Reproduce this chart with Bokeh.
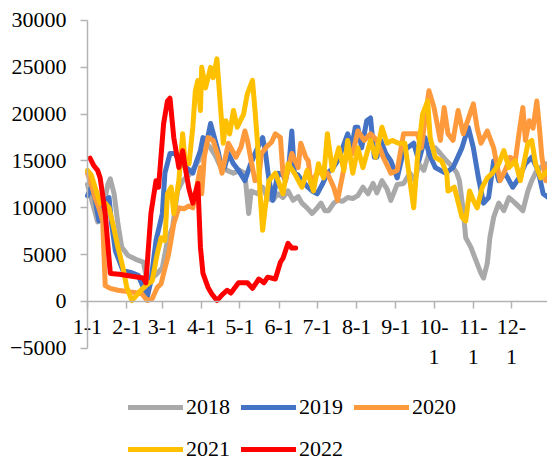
from bokeh.plotting import figure
from bokeh.models import Range1d, FixedTicker, Legend, LegendItem
from bokeh.embed import file_html
from bokeh.resources import INLINE

# x positions are day-of-year (0 = Jan 1)
month_ticks = [0, 31, 59, 90, 120, 151, 181, 212, 243, 273, 304, 334]
month_labels = ["1-1", "2-1", "3-1", "4-1", "5-1", "6-1", "7-1", "8-1", "9-1",
                "10-\n1", "11-\n1", "12-\n1"]
y_ticks = [-5000, 0, 5000, 10000, 15000, 20000, 25000, 30000]

series_names = ["2018", "2019", "2020", "2021", "2022"]
series_colors = ["#A9A9A9", "#4472C4", "#FF9A3C", "#FFC000", "#FF0000"]

days_2018 = [0, 4, 8, 12, 16, 18, 21, 24, 27, 32, 38, 44, 47, 51, 55, 59, 63, 67, 71, 75,
             80, 85, 90, 94, 97, 101, 105, 110, 115, 120, 124, 127, 129, 134, 138, 142, 146,
             150, 154, 158, 162, 166, 169, 173, 177, 181, 184, 187, 190, 194, 197, 201, 205,
             209, 213, 217, 221, 225, 228, 232, 236, 239, 244, 249, 254, 258, 261, 265, 269,
             274, 278, 283, 288, 291, 293, 296, 298, 302, 306, 310, 312, 315, 317, 320, 324,
             328, 332, 337, 343, 347, 350, 354, 361, 364]
vals_2018 = [12500, 10500, 8500, 9500, 12500, 13100, 11500, 8300, 5800, 4900, 4500, 4200,
             2200, 2500, 3000, 3600, 6500, 7900, 11800, 12900, 13500, 14500, 15500, 16800,
             16400, 15500, 14300, 14000, 13700, 14000, 13700, 9400, 11800, 11500, 12200,
             11000, 10800, 11500, 11100, 11800, 10800, 11200, 10500, 10000, 9400, 10000,
             10500, 9700, 9700, 10500, 10800, 10700, 11100, 11000, 11300, 12200, 11500,
             12600, 11600, 12900, 12000, 10800, 12500, 12600, 13700, 12900, 14700, 14000,
             15800, 16400, 15800, 15000, 14300, 13700, 12900, 9700, 6800, 5800, 4400, 3000,
             2500, 4100, 6800, 9000, 10500, 9700, 11100, 10500, 9700, 11800, 12900, 14000,
             14700, 13500]

days_2019 = [0, 3, 6, 9, 14, 17, 19, 22, 28, 34, 40, 44, 47, 50, 54, 59, 61, 65, 69, 73,
             78, 83, 86, 89, 91, 94, 97, 100, 103, 106, 108, 111, 115, 119, 124, 128, 132,
             136, 138, 140, 143, 146, 150, 154, 156, 159, 161, 163, 166, 169, 173, 177, 181,
             185, 189, 193, 197, 201, 205, 208, 211, 213, 216, 220, 223, 226, 228, 231, 235,
             239, 244, 249, 253, 257, 261, 266, 269, 274, 278, 282, 288, 291, 295, 300, 304,
             308, 312, 316, 320, 324, 329, 335, 340, 345, 350, 355, 359, 363]
vals_2019 = [11300, 12200, 11000, 8600, 10800, 11100, 8300, 5400, 3300, 3100, 2800, 1500,
             400, 2200, 6500, 9400, 13700, 15800, 15800, 14800, 14300, 13700, 15000, 16100,
             17500, 17000, 19000, 17500, 16000, 14000, 14300, 15800, 14700, 14000, 12900,
             14500, 15800, 17000, 17500, 16100, 13000, 10800, 13700, 13500, 12900, 15000,
             18200, 13700, 13500, 12900, 12300, 11800, 11500, 12500, 13700, 14200, 15000,
             16400, 17900, 16400, 18600, 18600, 16400, 19300, 19600, 15400, 15400, 17200,
             15800, 15000, 13200, 16100, 16500, 16900, 15000, 17500, 15800, 14300, 14000,
             13700, 14300, 15200, 16400, 18600, 16400, 13200, 10500, 11100, 15000, 12900,
             13700, 12200, 13200, 14700, 15400, 14000, 11500, 11100]

days_2020 = [0, 3, 6, 9, 12, 13, 14, 18, 24, 30, 35, 40, 43, 47, 51, 55, 58, 61, 64, 68,
             72, 76, 80, 83, 87, 89, 90, 92, 95, 99, 103, 106, 111, 117, 121, 124, 126, 129,
             132, 135, 137, 141, 145, 148, 152, 154, 156, 161, 166, 168, 172, 174, 176, 180,
             184, 189, 194, 197, 201, 205, 209, 213, 218, 223, 228, 233, 239, 244, 249, 255,
             260, 263, 266, 269, 273, 276, 278, 281, 284, 288, 292, 296, 300, 304, 307, 310,
             315, 320, 325, 329, 333, 337, 340, 343, 345, 348, 351, 354, 356, 358, 361, 364]
vals_2020 = [13700, 12500, 11100, 10000, 8600, 5100, 1700, 1400, 1200, 1100, 1000, 900,
             800, 100, 300, 1500, 1900, 3500, 5100, 8300, 10000, 9900, 10200, 10000, 12900,
             14300, 11500, 15400, 17500, 17200, 15500, 13700, 16900, 15400, 16500, 18200,
             17200, 15000, 12900, 13200, 15800, 16500, 17000, 17900, 17500, 13700, 12900,
             15800, 14300, 16900, 15400, 15000, 12600, 13500, 14000, 13700, 12200, 10800,
             13500, 16400, 15800, 18200, 17200, 17900, 17200, 15400, 13700, 14000, 17900,
             17900, 17900, 16400, 19500, 22500, 20700, 18600, 17200, 20700, 17900, 17200,
             20400, 17900, 19500, 21100, 18500, 16900, 18200, 16400, 12900, 14000, 15400,
             15000, 18000, 20700, 17200, 19300, 18500, 21400, 18600, 15400, 12900, 15000]

days_2021 = [0, 3, 6, 10, 14, 17, 20, 24, 28, 31, 35, 39, 42, 47, 51, 55, 58, 61, 63, 66,
             68, 72, 75, 77, 80, 83, 85, 87, 89, 90, 93, 97, 99, 102, 105, 107, 109, 112,
             115, 118, 123, 126, 130, 132, 134, 136, 138, 140, 143, 148, 154, 158, 163, 169,
             173, 178, 182, 186, 189, 193, 198, 202, 205, 209, 213, 217, 223, 227, 232, 236,
             240, 245, 250, 254, 257, 260, 264, 268, 270, 274, 279, 283, 284, 289, 295, 298,
             301, 304, 307, 311, 315, 319, 324, 328, 332, 337, 341, 347, 350, 353, 357, 363]
vals_2021 = [14000, 13500, 12200, 10500, 10500, 10000, 8300, 5800, 3600, 1500, 100, 700,
             1200, 1800, 2200, 5100, 6800, 6500, 11500, 12200, 9400, 12900, 17900, 14700,
             14700, 18600, 22500, 23600, 20400, 25000, 22800, 25000, 23900, 25900, 20400,
             16900, 19300, 17900, 20400, 18600, 20000, 22200, 23600, 20400, 16900, 11500,
             7600, 10000, 12900, 13700, 11500, 14700, 13700, 12200, 14000, 11800, 14700,
             13200, 17900, 14000, 16400, 14000, 17200, 13700, 16400, 14300, 17200, 15400,
             18600, 16900, 17200, 16900, 16900, 12900, 10000, 15400, 20000, 21400, 17500,
             15400, 15000, 13700, 11800, 12200, 9000, 8600, 11800, 10800, 10000, 12200,
             13200, 13700, 14700, 16100, 14300, 15000, 12900, 16900, 17200, 14700, 13200,
             14000]

days_2022 = [2, 5, 8, 10, 14, 18, 25, 35, 44, 46, 50, 54, 56, 60, 63, 65, 68, 72, 75, 77,
             80, 83, 87, 89, 91, 95, 98, 102, 106, 110, 113, 119, 126, 130, 135, 139, 142,
             148, 152, 154, 158, 161, 164]
vals_2022 = [15300, 14500, 14000, 13200, 9400, 3000, 2900, 2700, 2500, 2000, 9400, 12900,
             12200, 19000, 21400, 21700, 17500, 14300, 16100, 14300, 12000, 10500, 12600,
             5800, 3000, 1500, 800, 100, 700, 1200, 900, 2000, 2000, 1400, 2400, 2000, 2600,
             2400, 4200, 4600, 6200, 5700, 5700]

all_days = [days_2018, days_2019, days_2020, days_2021, days_2022]
all_vals = [vals_2018, vals_2019, vals_2020, vals_2021, vals_2022]

FONT = "Liberation Serif"

# The frame covers the whole canvas; both axes are placed at data positions.
p = figure(width=547, height=460, output_backend="svg", toolbar_location=None,
           x_range=Range1d(-68.5, 362.4), y_range=Range1d(-16975, 32135),
           min_border_left=0, min_border_top=0, min_border_right=0, min_border_bottom=0)
p.outline_line_color = None
p.xgrid.visible = False
p.ygrid.visible = False
p.background_fill_color = "white"
p.border_fill_color = "white"

renderers = []
for d, v, c in zip(all_days, all_vals, series_colors):
    r = p.line(d, v, line_color=c, line_width=5, line_join="round", line_cap="round")
    renderers.append(r)

axis_color = "#B3B3B3"
# x axis crossing at y = 0
xa = p.xaxis[0]
xa.fixed_location = 0
xa.bounds = (0, 363)
xa.ticker = FixedTicker(ticks=month_ticks, minor_ticks=[])
xa.major_label_overrides = {t: lab for t, lab in zip(month_ticks, month_labels)}
xa.axis_line_color = axis_color
xa.axis_line_width = 1.5
xa.major_tick_line_color = axis_color
xa.major_tick_line_width = 1.5
xa.major_tick_out = 7
xa.major_tick_in = 0
xa.minor_tick_line_color = None
xa.major_label_standoff = 6
xa.major_label_text_font = FONT
xa.major_label_text_font_size = "22px"
xa.major_label_text_color = "black"

# y axis at x = 0 (Jan 1)
ya = p.yaxis[0]
ya.fixed_location = 0
ya.ticker = FixedTicker(ticks=y_ticks, minor_ticks=[])
ya.bounds = (-5000, 30000)
ya.axis_line_color = axis_color
ya.axis_line_width = 1.5
ya.major_tick_line_color = axis_color
ya.major_tick_line_width = 1.5
ya.major_tick_out = 7
ya.major_tick_in = 0
ya.minor_tick_line_color = None
ya.major_label_standoff = 14
ya.major_label_text_font = FONT
ya.major_label_text_font_size = "22px"
ya.major_label_text_color = "black"

legend = Legend(items=[LegendItem(label=n, renderers=[r]) for n, r in zip(series_names, renderers)],
                location=(128, -5), orientation="horizontal", ncols=3,
                glyph_width=55, glyph_height=32, label_height=32, label_width=45,
                label_standoff=3, spacing=10, padding=0, margin=0,
                background_fill_alpha=0, border_line_alpha=0,
                label_text_font=FONT, label_text_font_size="22px", label_text_color="black")
p.add_layout(legend)

open("out.html", "w").write(file_html(p, INLINE))
